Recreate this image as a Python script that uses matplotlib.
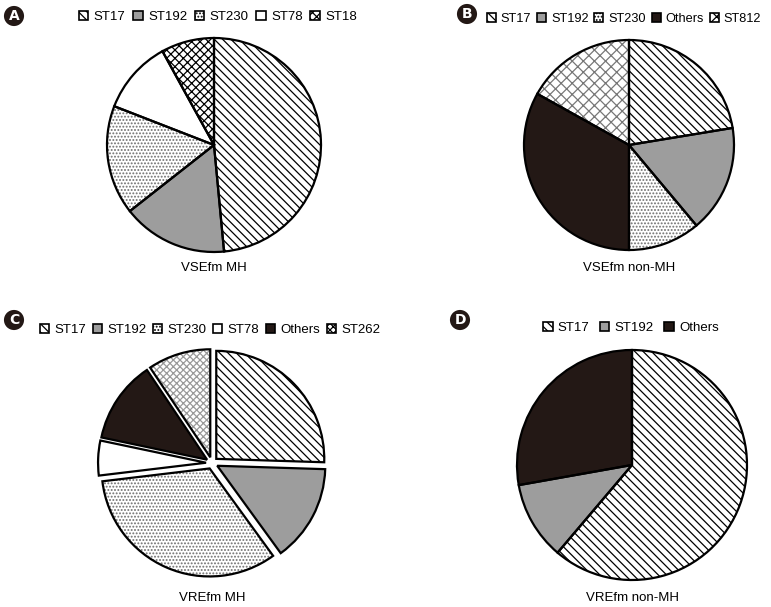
import matplotlib
matplotlib.use("Agg")
import matplotlib.pyplot as plt
from matplotlib.patches import Patch

plt.rcParams['font.family'] = ['Liberation Sans', 'DejaVu Sans']
plt.rcParams['hatch.linewidth'] = 0.9

# data (percent of isolates)
labels_a = ['ST17', 'ST192', 'ST230', 'ST78', 'ST18']
values_a = [48.5, 15.9, 16.5, 11.1, 8.0]
labels_b = ['ST17', 'ST192', 'ST230', 'Others', 'ST812']
values_b = [22.4, 16.5, 11.1, 33.1, 16.9]
labels_c = ['ST17', 'ST192', 'ST230', 'ST78', 'Others', 'ST262']
values_c = [25.5, 14.5, 33.1, 5.2, 12.3, 9.4]
labels_d = ['ST17', 'ST192', 'Others']
values_d = [61.2, 11.0, 27.8]

# fill style per sequence type: (facecolor, hatch, hatch colour)
styles = {
    'ST17': ('white', '\\\\\\\\', 'black'),
    'ST192': ('#9d9d9d', None, '#9d9d9d'),
    'ST230': ('white', '.....', '#6e6e6e'),
    'ST78': ('white', None, 'white'),
    'ST18': ('white', 'xxxx', 'black'),
    'Others': ('#231815', None, '#231815'),
    'ST812': ('white', 'xxx', '#777777'),
    'ST262': ('white', 'xxxxx', '#9a9a9a'),
}

W, H = 771, 607
fig = plt.figure(figsize=(W / 100, H / 100), dpi=100)


def draw_panel(letter, lpos, labels, values, cx, cy, r, title, leg_xy, colsp,
               explode=None, legsize=9.5):
    k = 1.2
    ax = fig.add_axes([(cx - r * k) / W, (H - cy - r * k) / H, 2 * r * k / W, 2 * r * k / H])
    faces = [styles[l][0] for l in labels]
    hatches = [styles[l][1] for l in labels]
    hcols = [styles[l][2] for l in labels]
    wedges, _ = ax.pie(values, colors=faces, startangle=90, counterclock=False,
                       explode=explode, hatch=hatches,
                       wedgeprops=dict(linewidth=0))
    for w, hc in zip(wedges, hcols):
        w.set_edgecolor(hc)
    ax.pie(values, colors=['none'] * len(values), startangle=90, counterclock=False,
           explode=explode, wedgeprops=dict(linewidth=1.6, edgecolor='black'))
    ax.set_xlim(-k, k)
    ax.set_ylim(-k, k)
    ax.set_aspect('equal')
    ax.axis('off')

    handles = [Patch(facecolor=styles[l][0], hatch=styles[l][1], edgecolor='black',
                     linewidth=1.2) for l in labels]
    fig.legend(handles, labels, loc='center', ncol=len(labels), frameon=False,
               bbox_to_anchor=(leg_xy[0] / W, 1 - leg_xy[1] / H),
               handlelength=0.7, handleheight=0.7, handletextpad=0.4,
               columnspacing=colsp, fontsize=legsize, borderpad=0, borderaxespad=0)
    fig.text(cx / W, 1 - title[1] / H, title[0], ha='center', va='center', fontsize=9.5)
    fig.text(lpos[0] / W, 1 - lpos[1] / H, letter, ha='center', va='center',
             color='white', fontsize=10, fontweight='bold', family='DejaVu Sans',
             bbox=dict(boxstyle='circle,pad=0.22', facecolor='#231815', edgecolor='none'))


draw_panel('A', (14, 16), labels_a, values_a, 214, 145, 107, ('VSEfm MH', 268), (218, 17), 0.6)
draw_panel('B', (467, 14), labels_b, values_b, 629, 145, 105, ('VSEfm non-MH', 268), (624, 19), 0.45,
           legsize=9.2)
draw_panel('C', (14, 320), labels_c, values_c, 212, 463, 108, ('VREfm MH', 598), (210, 330), 0.5,
           explode=[0.055] * len(values_c))
draw_panel('D', (460, 320), labels_d, values_d, 632, 465, 115, ('VREfm non-MH', 598), (631, 328), 0.8)

fig.savefig('out.png', dpi=100)
